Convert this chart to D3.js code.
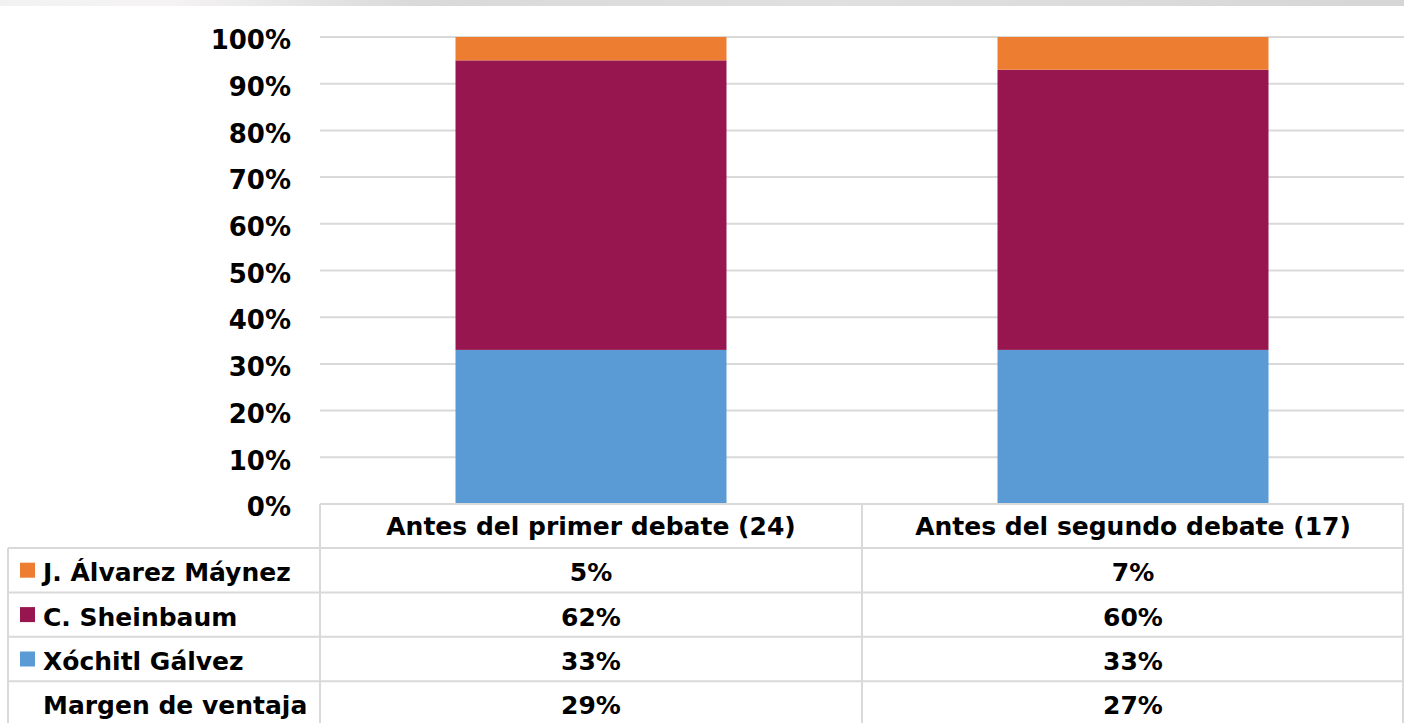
<!DOCTYPE html>
<html>
<head>
<meta charset="utf-8">
<script src="https://cdn.jsdelivr.net/npm/d3@7"></script>
<style>
  html, body { margin: 0; padding: 0; background: #ffffff; }
  svg { display: block; }
</style>
</head>
<body>
<svg id="chart" width="1404" height="723"></svg>
<script>
// ---- data ----
const categories = ["Antes del primer debate (24)", "Antes del segundo debate (17)"];
const seriesNames = ["Xóchitl Gálvez", "C. Sheinbaum", "J. Álvarez Máynez"];
const galvez = [0.33, 0.33];
const sheinbaum = [0.62, 0.60];
const maynez = [0.05, 0.07];
const margen = [0.29, 0.27];
const yTicks = [0, 0.1, 0.2, 0.3, 0.4, 0.5, 0.6, 0.7, 0.8, 0.9, 1.0];
const tableRows = ["J. Álvarez Máynez", "C. Sheinbaum", "Xóchitl Gálvez", "Margen de ventaja"];

const colors = { "Xóchitl Gálvez": "#5B9BD5", "C. Sheinbaum": "#981650", "J. Álvarez Máynez": "#ED7D31" };
const seriesValues = { "Xóchitl Gálvez": galvez, "C. Sheinbaum": sheinbaum, "J. Álvarez Máynez": maynez };

const svg = d3.select("#chart");
const W = 1404, H = 723;
const plotL = 320, plotR = 1404, plotT = 37, plotB = 504;
const gridColor = "#D9D9D9";
const tickFont = "'DejaVu Sans', sans-serif";
const tableFont = "'DejaVu Sans', sans-serif";

// top gradient strip
const defs = svg.append("defs");
const grad = defs.append("linearGradient").attr("id", "topstrip").attr("x1", "0").attr("x2", "1");
grad.append("stop").attr("offset", "0").attr("stop-color", "#f2f2f2");
grad.append("stop").attr("offset", "0.12").attr("stop-color", "#f5f3f4");
grad.append("stop").attr("offset", "0.3").attr("stop-color", "#d9d9d9");
grad.append("stop").attr("offset", "0.6").attr("stop-color", "#e0e0e0");
grad.append("stop").attr("offset", "1").attr("stop-color", "#d6d6d6");
svg.append("rect").attr("x", 0).attr("y", 0).attr("width", W).attr("height", 6).attr("fill", "url(#topstrip)");

// scales
const x = d3.scaleBand().domain(categories).range([plotL, plotR]).paddingInner(0.5).paddingOuter(0.25);
const xCol = d3.scaleBand().domain(categories).range([plotL, plotR]).padding(0);
const y = d3.scaleLinear().domain([0, 1]).range([plotB, plotT]);

// gridlines
svg.append("g").selectAll("line").data(yTicks).join("line")
  .attr("x1", plotL).attr("x2", plotR)
  .attr("y1", d => y(d)).attr("y2", d => y(d))
  .attr("stroke", gridColor).attr("stroke-width", 2);

// y axis labels
const yAxis = d3.axisLeft(y).tickValues(yTicks).tickFormat(d3.format(".0%")).tickSize(0).tickPadding(0);
const yG = svg.append("g").attr("transform", `translate(291,0)`).call(yAxis);
yG.select(".domain").remove();
yG.selectAll("text")
  .attr("font-family", tickFont).attr("font-weight", "bold").attr("font-size", 26)
  .attr("fill", "#000").attr("dy", "0.45em");

// stacked bars
const stackData = categories.map((c, i) => {
  const o = { cat: c };
  seriesNames.forEach(s => o[s] = seriesValues[s][i]);
  return o;
});
const stack = d3.stack().keys(seriesNames)(stackData);
svg.append("g").selectAll("g").data(stack).join("g")
  .attr("fill", d => colors[d.key])
  .selectAll("rect").data(d => d).join("rect")
  .attr("x", d => x(d.data.cat))
  .attr("width", x.bandwidth())
  .attr("y", d => y(d[1]))
  .attr("height", d => y(d[0]) - y(d[1]));

// data table
const rowTop = plotB + 44;
const rowScale = d3.scaleBand().domain(tableRows).range([rowTop, rowTop + 4 * 44.4]);
const tableLeft = 8;
const tg = svg.append("g");
// horizontal lines
tg.append("line").attr("x1", plotL).attr("x2", plotR).attr("y1", plotB).attr("y2", plotB)
  .attr("stroke", gridColor).attr("stroke-width", 2);
tg.selectAll("line.h").data(tableRows).join("line").attr("class", "h")
  .attr("x1", tableLeft).attr("x2", plotR)
  .attr("y1", d => rowScale(d)).attr("y2", d => rowScale(d))
  .attr("stroke", gridColor).attr("stroke-width", 2);
// vertical lines
tg.append("line").attr("x1", tableLeft).attr("x2", tableLeft).attr("y1", rowTop).attr("y2", H)
  .attr("stroke", gridColor).attr("stroke-width", 2);
const vx = [plotL, xCol(categories[1]), plotR - 1];
tg.selectAll("line.v").data(vx).join("line").attr("class", "v")
  .attr("x1", d => d).attr("x2", d => d).attr("y1", plotB).attr("y2", H)
  .attr("stroke", gridColor).attr("stroke-width", 2);

// header texts
tg.selectAll("text.hdr").data(categories).join("text").attr("class", "hdr")
  .attr("x", d => xCol(d) + xCol.bandwidth() / 2)
  .attr("y", plotB + 31)
  .attr("text-anchor", "middle")
  .attr("font-family", tableFont).attr("font-weight", "bold").attr("font-size", 25)
  .attr("fill", "#000").text(d => d);

// row labels & keys
const rowValues = { "J. Álvarez Máynez": maynez, "C. Sheinbaum": sheinbaum, "Xóchitl Gálvez": galvez, "Margen de ventaja": margen };
const rh = rowScale.bandwidth();
tableRows.forEach(r => {
  const cy = rowScale(r) + rh / 2;
  if (colors[r]) {
    tg.append("rect").attr("x", 20).attr("y", cy - 7.5).attr("width", 15).attr("height", 15).attr("fill", colors[r]);
  }
  tg.append("text").attr("x", 43).attr("y", cy + 11)
    .attr("font-family", tableFont).attr("font-weight", "bold").attr("font-size", 25)
    .attr("fill", "#000").text(r);
  categories.forEach((c, i) => {
    tg.append("text").attr("x", xCol(c) + xCol.bandwidth() / 2).attr("y", cy + 11)
      .attr("text-anchor", "middle")
      .attr("font-family", tableFont).attr("font-weight", "bold").attr("font-size", 25)
      .attr("fill", "#000").text(d3.format(".0%")(rowValues[r][i]));
  });
});
</script>
</body>
</html>
